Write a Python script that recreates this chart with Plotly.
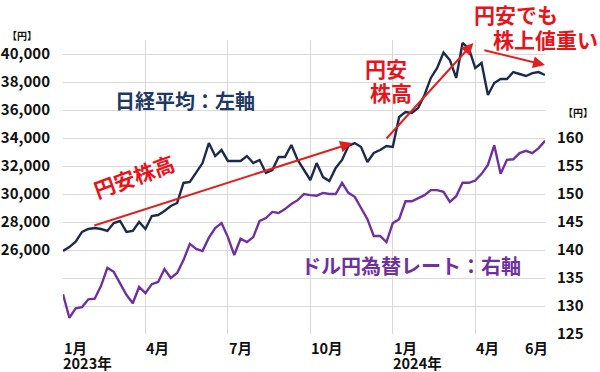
import plotly.graph_objects as go
import pandas as pd

# ---- data (weekly closes) ----
start_date = "2023-01-06"
nikkei = [25930, 26210, 26600, 27290, 27500, 27570, 27500, 27360, 27930, 28070,
          27290, 27360, 28000, 27500, 28430, 28500, 28790, 29140, 29360, 30790,
          30860, 31500, 32210, 33640, 32710, 33140, 32360, 32360, 32360, 32710,
          32210, 32430, 31500, 31710, 32640, 32640, 33500, 32430, 31710, 31000,
          32210, 31210, 30930, 31860, 32430, 33430, 33640, 33360, 32290, 32930,
          33140, 33430, 33360, 35500, 35860, 35790, 36140, 37070, 38290, 39000,
          40100, 39570, 38290, 40790, 40400, 39000, 39360, 37070, 37930, 38210,
          38210, 38710, 38570, 38430, 38640, 38710, 38500]
usdjpy = [132.1, 127.9, 129.6, 129.8, 131.2, 131.3, 133.6, 136.8, 136.1, 134.1,
          132.0, 130.5, 133.4, 132.3, 133.9, 134.3, 136.6, 135.0, 135.9, 138.2,
          141.1, 140.2, 139.8, 142.2, 143.9, 144.8, 142.3, 139.1, 142.0, 141.4,
          142.3, 145.2, 145.7, 146.8, 146.6, 147.3, 148.2, 148.9, 150.0, 149.8,
          149.7, 150.2, 150.0, 150.0, 152.0, 150.2, 149.5, 147.5, 145.5, 142.5,
          142.5, 141.4, 144.8, 145.5, 148.7, 148.7, 149.3, 149.8, 150.7, 150.7,
          150.4, 148.6, 149.6, 152.0, 152.0, 152.4, 153.6, 155.2, 158.7, 153.6,
          156.1, 156.2, 157.3, 157.7, 157.3, 158.2, 159.5]
dates = pd.date_range(start_date, periods=len(nikkei), freq="7D")

left_ticks = list(range(20000, 40001, 2000))
left_labels = [f"{v:,}" if v >= 26000 else "" for v in left_ticks]
right_ticks = [125, 130, 135, 140, 145, 150, 155, 160]
quarter_idx = [0, 13, 26, 39, 52, 65]
month_labels = ["1月", "4月", "7月", "10月", "1月", "4月", "6月"]
month_label_idx = [0, 13, 26, 39, 52, 65, 72.7]
year_labels = ["2023年", "2024年"]
year_label_idx = [0, 52]

NAVY = "#1c2b4d"
PURPLE = "#7030a0"
RED = "#e8141c"
GRID = "#d9d9d9"
FONT = "Noto Sans CJK JP"

def xd(i):
    return (pd.Timestamp(start_date) + pd.Timedelta(days=7 * i)).strftime("%Y-%m-%d %H:%M")

fig = go.Figure()
fig.add_trace(go.Scatter(x=dates, y=nikkei, mode="lines",
                         line=dict(color=NAVY, width=2.4), yaxis="y", showlegend=False))
fig.add_trace(go.Scatter(x=dates, y=usdjpy, mode="lines",
                         line=dict(color=PURPLE, width=2.4), yaxis="y2", showlegend=False))

tickfont = dict(family=FONT, size=15, color="#111111", weight="bold")

fig.update_layout(
    width=600, height=372,
    margin=dict(l=63, r=55, t=40, b=38),
    paper_bgcolor="white", plot_bgcolor="white",
    xaxis=dict(type="date", range=[dates[0], dates[-1]], automargin=False,
               tickvals=[dates[i] for i in quarter_idx], showticklabels=False,
               showgrid=True, gridcolor=GRID, gridwidth=1, zeroline=False, showline=False, ticks=""),
    yaxis=dict(range=[20000, 41000], tickvals=left_ticks, ticktext=left_labels, automargin=False,
               showgrid=True, gridcolor=GRID, gridwidth=1, zeroline=False, showline=False,
               tickfont=tickfont, ticks="", ticklabelstandoff=12),
    yaxis2=dict(range=[125, 177.5], tickvals=right_ticks, overlaying="y", side="right",
                automargin=False, showgrid=False, zeroline=False, showline=False, tickfont=tickfont,
                ticks="", ticklabelstandoff=11),
)

def px(xp):
    return (xp - 63) / 482.0

def py(yp):
    return (334 - yp) / 294.0

ann = []
axfont = dict(family=FONT, size=14.5, color="#111", weight="bold")
# x-axis labels
for lab, i in zip(month_labels, month_label_idx):
    ann.append(dict(x=xd(i), y=py(347), xref="x", yref="paper", text=lab, showarrow=False,
                    xanchor="left", yanchor="middle", xshift=-1, font=axfont))
for lab, i in zip(year_labels, year_label_idx):
    ann.append(dict(x=xd(i), y=py(362), xref="x", yref="paper", text=lab, showarrow=False,
                    xanchor="left", yanchor="middle", xshift=-2, font=axfont))

def label(xp, yp, text, font, angle=0):
    return dict(x=px(xp), y=py(yp), xref="paper", yref="paper", text=text, showarrow=False,
                xanchor="center", yanchor="middle", textangle=angle, font=font)

# unit labels
unitfont = dict(family=FONT, size=10, color="#111", weight="bold")
ann.append(label(22, 35, "【円】", unitfont))
ann.append(label(578, 112, "【円】", unitfont))

# series labels
ann.append(label(185, 100, "日経平均：左軸", dict(family=FONT, size=20, color="#1f3864", weight="bold")))
ann.append(label(411, 265, "ドル円為替レート：右軸", dict(family=FONT, size=20, color=PURPLE, weight="bold")))

# red comments
redfont = dict(family=FONT, size=21, color=RED, weight="bold")
ann.append(label(134, 176, "円安株高", redfont, angle=-20))
ann.append(label(386, 68, "円安", redfont))
ann.append(label(391, 92, "株高", redfont))
ann.append(label(516, 14, "円安でも", redfont))
ann.append(label(545, 39, "株上値重い", redfont))

# arrows
for (i0, v0, i1, v1, w) in [(4.7, 27714, 45.6, 33643, 2.0),
                            (50.8, 33860, 64.7, 40790, 2.0),
                            (66.2, 40290, 76.0, 39210, 2.0)]:
    ann.append(dict(x=xd(i1), y=v1, ax=xd(i0), ay=v0, xref="x", yref="y", axref="x", ayref="y",
                    text="", showarrow=True, arrowhead=2, arrowsize=1.2, arrowwidth=w,
                    arrowcolor="#e02020"))

fig.update_layout(annotations=ann)
fig.write_html("out.html")
